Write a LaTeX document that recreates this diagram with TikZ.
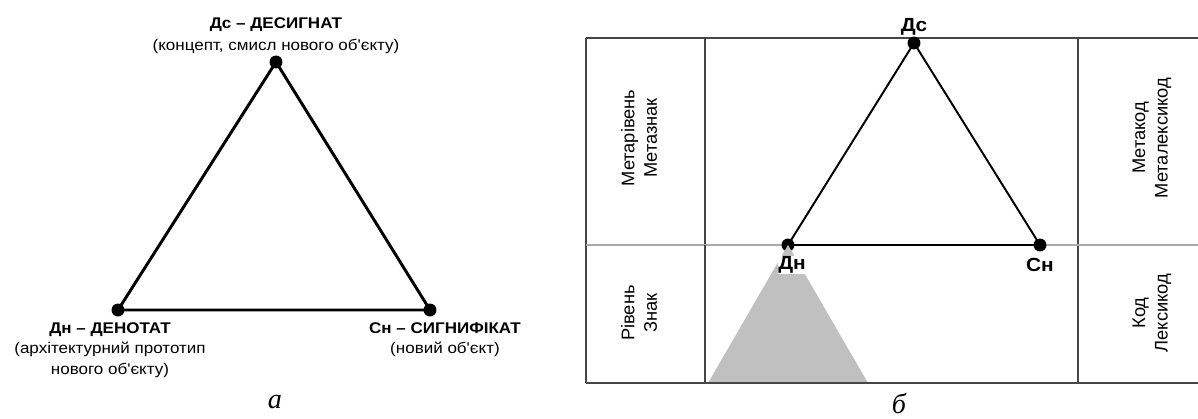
\documentclass[tikz,border=0pt]{standalone}
\usepackage{fontspec}
\setmainfont{Liberation Serif}
\newfontfamily\labelfont[FakeStretch=1.1]{Liberation Sans}
\newfontfamily\sidefont{Liberation Sans}
\usetikzlibrary{math}
\definecolor{framegrey}{RGB}{70,70,70}
\definecolor{midgrey}{RGB}{170,170,170}
\definecolor{coneshade}{RGB}{192,192,192}

\begin{document}
\begin{tikzpicture}[x=0.025cm,y=-0.025cm,
  dot/.style={circle,fill=black,inner sep=0pt,minimum size=9.2pt},
  vertexlabel/.style={font=\labelfont\bfseries\fontsize{13.5}{15}\selectfont,inner sep=1pt},
  notelabel/.style={align=center,font=\labelfont\fontsize{11}{14.5}\selectfont,inner sep=1pt},
  sidelabel/.style={rotate=90,align=center,font=\sidefont\fontsize{13}{16}\selectfont},
  caption/.style={font=\itshape\fontsize{20}{24}\selectfont}]
\tikzmath{
\colL=586; \colA=705; \colB=1078; \colR=1198;
\rowT=38; \rowM=245; \rowB=383;
}
\useasboundingbox (0,0) rectangle (1198,419);

% triangle (a)
\node[dot] (ds) at (276,62) {};
\node[dot] (dn) at (118,310) {};
\node[dot] (sn) at (430,310) {};
\draw[line width=2.1pt] (ds.center) -- (dn.center) -- (sn.center) -- cycle;

\node[notelabel,anchor=south] (dstext) at (276,55) {\textbf{Дс – ДЕСИГНАТ}\\[1pt](концепт, смисл нового об'єкту)};
\node[notelabel,anchor=north] (dntext) at (110,321) {\textbf{Дн – ДЕНОТАТ}\\(архітектурний прототип\\нового об'єкту)};
\node[notelabel,anchor=north] (sntext) at (445,321) {\textbf{Сн – СИГНИФІКАТ}\\(новий об'єкт)};
\node[caption] (capa) at (275,402) {а};

%%%%%%%%%%   levels (b)
\draw[framegrey,line width=0.8pt] (\colL,\rowT) -- (\colR,\rowT);
\draw[framegrey,line width=0.8pt] (\colL,\rowB) -- (\colR,\rowB);
\draw[framegrey,line width=0.8pt] (\colL,\rowT) -- (\colL,\rowB);
\draw[framegrey,line width=0.8pt] (\colA,\rowT) -- (\colA,\rowB);
\draw[framegrey,line width=0.8pt] (\colB,\rowT) -- (\colB,\rowB);
\draw[midgrey,line width=1pt] (\colL,\rowM) -- (\colR,\rowM);

\node[dot] (top) at (914,43) {};
\node[dot] (left) at (788,\rowM) {};
\node[dot] (right) at (1040,\rowM) {};
\draw[line width=1.4pt] (top.center) -- (left.center) -- (right.center) -- cycle;
\fill[coneshade] (left.center) -- (708,\rowB) -- (868,\rowB) -- cycle;
\draw[framegrey,line width=0.8pt] (\colA,\rowM) -- (\colA,\rowB) -- (\colR,\rowB);

\node[vertexlabel] (toptag) at (914,27) {Дс};
\node[vertexlabel,fill=white,inner sep=0.5pt] (lefttag) at (792,265) {Дн};
\node[vertexlabel] (righttag) at (1040,265) {Сн};

\node[sidelabel] (metalevel) at (639,138) {Метарівень\\Метазнак};
\node[sidelabel] (level) at (639,313) {Рівень\\Знак};
\node[sidelabel] (metacode) at (1152,138) {Метакод\\Металексикод};
\node[sidelabel] (code) at (1152,313) {Код\\Лексикод};
\node[caption] (capb) at (899,404) {б};
\end{tikzpicture}
\end{document}
